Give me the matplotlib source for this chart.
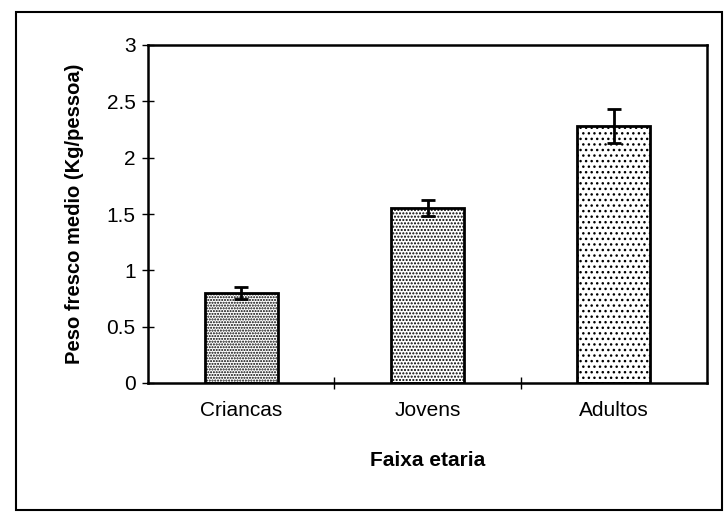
import matplotlib
matplotlib.use("Agg")
import matplotlib.pyplot as plt
from matplotlib.patches import Rectangle
import numpy as np

plt.rcParams['font.family'] = ['Liberation Sans', 'DejaVu Sans']
plt.rcParams['hatch.linewidth'] = 1.0

categories = ["Criancas", "Jovens", "Adultos"]
values = [0.80, 1.55, 2.28]
errors = [0.05, 0.07, 0.15]
hatches = ["......", ".....", "..."]

fig = plt.figure(figsize=(7.27, 5.25), dpi=100)
# outer frame around the whole chart
fig.patches.append(Rectangle((16 / 727, 15 / 525), 706 / 727, 498 / 525,
                             transform=fig.transFigure, fill=False,
                             edgecolor="black", linewidth=1.5))

ax = fig.add_axes([148 / 727, 1 - 383 / 525, 559 / 727, 338 / 525])
x = np.arange(len(categories))
bars = ax.bar(x, values, width=0.39, color="white", edgecolor="black",
              linewidth=2, zorder=2)
for b, h in zip(bars, hatches):
    b.set_hatch(h)
ax.errorbar(x, values, yerr=errors, fmt="none", ecolor="black",
            elinewidth=2, capsize=5, capthick=2, zorder=3)

ax.set_xlim(-0.5, 2.5)
ax.set_ylim(0, 3)
ax.set_yticks([0, 0.5, 1, 1.5, 2, 2.5, 3])
ax.set_yticklabels(["0", "0.5", "1", "1.5", "2", "2.5", "3"])
ax.set_xticks(x)
ax.set_xticklabels(categories)
ax.set_xticks([0.5, 1.5], minor=True)
ax.tick_params(axis="x", which="major", length=0, pad=13, labelsize=15)
ax.tick_params(axis="x", which="minor", direction="inout", length=8, width=1)
ax.tick_params(axis="y", direction="inout", length=8, width=1, labelsize=15, pad=5)
for s in ax.spines.values():
    s.set_linewidth(1.8)

ax.set_xlabel("Faixa etaria", fontweight="bold", fontsize=15, labelpad=22)
ax.set_ylabel("Peso fresco medio (Kg/pessoa)", fontweight="bold", fontsize=14.5,
              labelpad=16)

fig.savefig("out.png", dpi=100)
